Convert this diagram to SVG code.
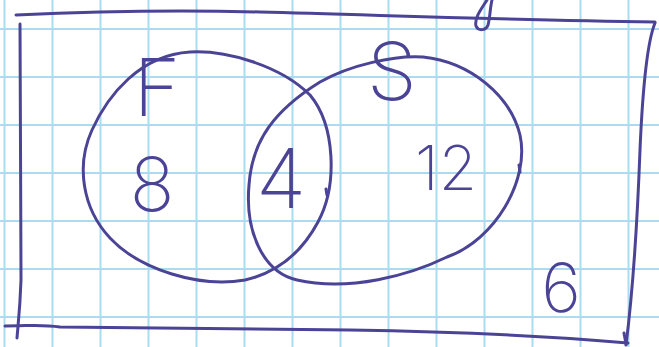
<svg xmlns="http://www.w3.org/2000/svg" width="659" height="347" viewBox="0 0 659 347">
<style>
.grid line{stroke:#a9dcee;stroke-width:2}
.pen{fill:none;stroke:#4b4496;stroke-width:3;stroke-linecap:round;stroke-linejoin:round}
.lbl{font-family:Inter,"Liberation Sans",sans-serif;font-weight:200;fill:#4b4496;text-anchor:middle}
</style>
<rect width="659" height="347" fill="#ffffff"/>
<g class="grid">
<line x1="4.5" y1="0" x2="4.5" y2="347"/><line x1="52.5" y1="0" x2="52.5" y2="347"/><line x1="100.5" y1="0" x2="100.5" y2="347"/><line x1="148.5" y1="0" x2="148.5" y2="347"/><line x1="196.5" y1="0" x2="196.5" y2="347"/><line x1="244.5" y1="0" x2="244.5" y2="347"/><line x1="292.5" y1="0" x2="292.5" y2="347"/><line x1="340.5" y1="0" x2="340.5" y2="347"/><line x1="388.5" y1="0" x2="388.5" y2="347"/><line x1="436.5" y1="0" x2="436.5" y2="347"/><line x1="484.5" y1="0" x2="484.5" y2="347"/><line x1="532.5" y1="0" x2="532.5" y2="347"/><line x1="580.5" y1="0" x2="580.5" y2="347"/><line x1="628.5" y1="0" x2="628.5" y2="347"/>
<line x1="0" y1="29" x2="659" y2="29"/><line x1="0" y1="77" x2="659" y2="77"/><line x1="0" y1="125" x2="659" y2="125"/><line x1="0" y1="173" x2="659" y2="173"/><line x1="0" y1="221" x2="659" y2="221"/><line x1="0" y1="269" x2="659" y2="269"/><line x1="0" y1="317" x2="659" y2="317"/>
</g>
<g id="universe">
<path class="pen" d="M16 15 C80 12 180 10 260 12 C380 15 500 20 655 22"/>
<path class="pen" d="M655 23 C648 40 643 80 640 150 C637 230 633 290 626 345"/>
<path class="pen" d="M20 24 C20 100 21 200 21 280 C20 310 18 325 17 338"/>
<path class="pen" d="M5 326 C30 326 40 324 60 327 C150 328 250 329 350 330 C480 332 560 337 628 343"/>
<path class="pen" stroke-width="5" d="M624 333 L626 344"/>
<path class="pen" stroke-width="3.5" d="M487 0 C482 8 474 18 476 26 C478 31 486 31 488 25 C490 18 490 8 492 0"/>
<text class="lbl" x="561" y="312" font-size="68">6</text>
</g>
<g id="set-F">
<path class="pen" d="M190 52 C225 50 280 65 310 95 C335 125 338 185 318 222 C303 250 280 272 245 280 C200 288 140 270 110 238 C82 208 76 165 92 130 C108 95 140 55 190 52 Z"/>
<text class="lbl" x="157" y="116" font-size="80">F</text>
<text class="lbl" x="152" y="211" font-size="74">8</text>
</g>
<g id="set-S">
<path class="pen" d="M423 57 C470 62 510 95 520 135 C530 180 495 240 447 257 C410 275 350 292 297 280 C262 272 245 230 249 185 C252 140 275 110 320 82 C350 65 395 55 423 57 Z"/>
<path class="pen" stroke-width="4.5" d="M519 165 L520 172 M326 189 L327 195"/>
<text class="lbl" x="392" y="100" font-size="80">S</text>
<text class="lbl" x="446" y="190" font-size="62">12</text>
</g>
<g id="intersection">
<text class="lbl" x="281" y="208" font-size="82">4</text>
</g>
<g id="connectors"/>
</svg>
